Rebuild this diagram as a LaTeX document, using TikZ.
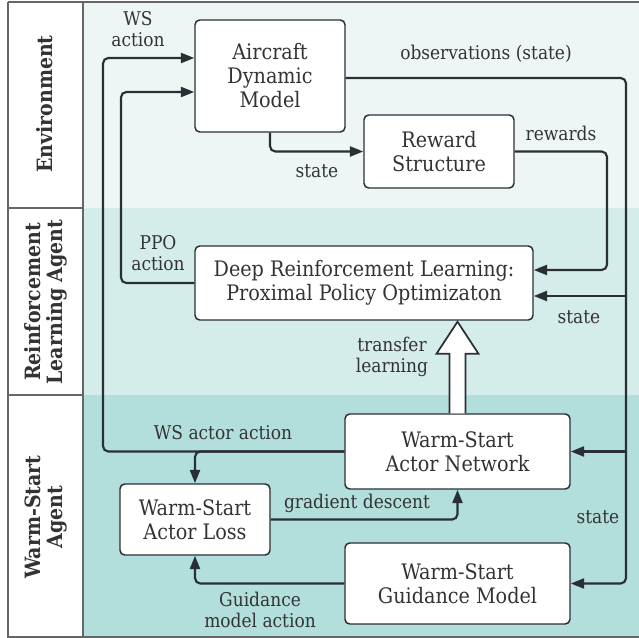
\documentclass[tikz,border=0pt]{standalone}
\usepackage{fontspec}
\setmainfont{DejaVu Serif Condensed}
\usetikzlibrary{arrows.meta,calc}
\definecolor{lc}{HTML}{2A2F36}
\definecolor{tc}{HTML}{333333}
\definecolor{bandA}{HTML}{EDF6F5}
\definecolor{bandB}{HTML}{D4ECEA}
\definecolor{bandC}{HTML}{B2DFDB}
\definecolor{frame}{HTML}{666666}
\begin{document}
\begin{tikzpicture}[x=0.75pt,y=-0.75pt,
  box/.style={draw=lc, line width=1.1pt, rounded corners=3.5pt, fill=white, align=center,
    font=\fontsize{16}{18}\selectfont, text=tc, inner sep=0pt},
  conn/.style={draw=lc, line width=1.6pt, rounded corners=4pt, -{Triangle[length=10pt,width=7.5pt]}},
  lbl/.style={font=\fontsize{14.2}{15.75}\selectfont, text=tc, align=center, inner sep=0pt},
  lane/.style={font=\bfseries\fontsize{15.8}{16.5}\selectfont, text=tc, align=center, rotate=90, inner sep=0pt},
 ]
\useasboundingbox (0,0) rectangle (639,638);
% bands
\fill[bandA] (8,2) rectangle (639,208);
\fill[bandB] (8,208) rectangle (639,395);
\fill[bandC] (8,395) rectangle (639,637);
\fill[white] (8,2) rectangle (83,637);
\draw[frame, line width=1.5pt] (8,2) -- (8,637) -- (640,637);
\draw[frame, line width=1.5pt] (8,2) -- (640,2);
\draw[frame, line width=1.5pt] (83,2) -- (83,637);
\draw[frame, line width=1.5pt] (8,208) -- (83,208);
\draw[frame, line width=1.5pt] (8,395) -- (83,395);
% lane labels
\node[lane] (lenv) at (45,104) {Environment};
\node[lane] (lrl) at (46,302) {Reinforcement\\Learning Agent};
\node[lane] (lws) at (46,517) {Warm-Start\\Agent};
% nodes
\node[box, minimum width=112.5pt, minimum height=84pt] (adm) at (270,76) {Aircraft\\Dynamic\\Model};
\node[box, minimum width=112.5pt, minimum height=54.75pt] (rs) at (439,151.5) {Reward\\Structure};
\node[box, minimum width=253.5pt, minimum height=55.5pt] (drl) at (364,283) {Deep Reinforcement Learning:\\Proximal Policy Optimizaton};
\node[box, minimum width=168.75pt, minimum height=56.25pt] (wsan) at (457.5,451.5) {Warm-Start\\Actor Network};
\node[box, minimum width=112.5pt, minimum height=53.25pt] (wsal) at (195,519.5) {Warm-Start\\Actor Loss};
\node[box, minimum width=168.75pt, minimum height=60.75pt] (wsgm) at (457.5,583.5) {Warm-Start\\Guidance Model};
% helper coordinates
\coordinate (ywsa) at (0,58);
\coordinate (yppo) at (0,92);
\coordinate (yobs) at (0,78);
\coordinate (ystate) at (0,296);
\coordinate (yrew) at (0,270);
\coordinate (xws) at (103,0);
\coordinate (xppo) at (121,0);
\coordinate (xobs) at (626,0);
\coordinate (xrew) at (607,0);
\coordinate (ttip) at (wsan.north |- drl.south);
% connectors
\draw[conn] (wsan.west) -- (xws |- wsan.west) -- (xws |- ywsa) -- (adm.west |- ywsa);
\draw[conn] (wsan.west) -- (wsal.north |- wsan.west) -- (wsal.north);
\draw[conn] (drl.west) -- (xppo |- drl.west) -- (xppo |- yppo) -- (adm.west |- yppo);
\draw[conn] (adm.south) |- (rs.west);
\draw[conn] (adm.east |- yobs) -- (xobs |- yobs) -- (xobs |- wsgm.east) -- (wsgm.east);
\draw[conn] (xobs |- ystate) -- (drl.east |- ystate);
\draw[conn] (xobs |- wsan.east) -- (wsan.east);
\draw[conn] (rs.east) -- (xrew |- rs.east) -- (xrew |- yrew) -- (drl.east |- yrew);
\draw[conn] (wsal.east) -| (wsan.south);
\draw[conn] (wsgm.west) -| (wsal.south);
% transfer learning arrow
\draw[lc, fill=white, line width=1.3pt]
  ($(wsan.north)+(-8,0)$) -- ($(ttip)+(-8,33)$) -- ($(ttip)+(-21,33)$) -- ($(ttip)+(0,1)$)
  -- ($(ttip)+(21,33)$) -- ($(ttip)+(8,33)$) -- ($(wsan.north)+(8,0)$);
% labels
\node[lbl] (t1) at (138,29) {WS\\action};
\node[lbl] (t2) at (158,253) {PPO\\action};
\node[lbl] (t3) at (317,171) {state};
\node[lbl] (t4) at (486,54) {observations (state)};
\node[lbl] (t5) at (561,133) {rewards};
\node[lbl] (t6) at (579,317) {state};
\node[lbl] (t7) at (392,357) {transfer\\learning};
\node[lbl] (t8) at (223,433) {WS actor action};
\node[lbl] (t9) at (357,503) {gradient descent};
\node[lbl] (t10) at (598,517) {state};
\node[lbl] (t11) at (260,610) {Guidance\\model action};
\end{tikzpicture}
\end{document}
